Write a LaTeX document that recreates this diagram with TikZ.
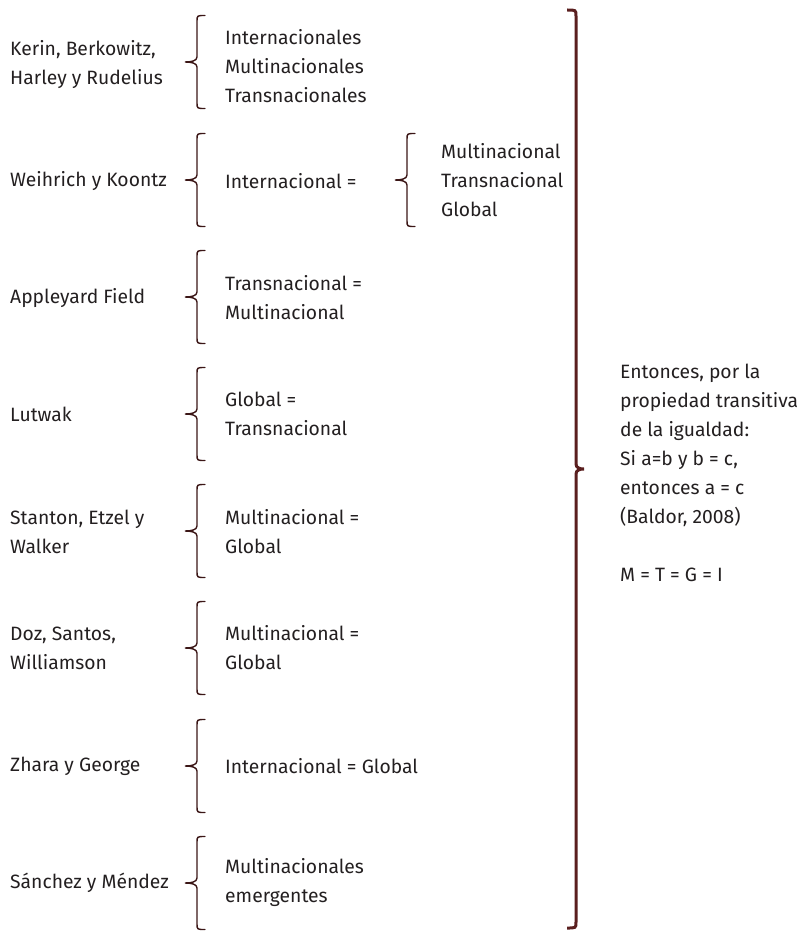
\documentclass[tikz,border=0pt]{standalone}
\usepackage{fontspec}
\setmainfont{Fira Sans}
\usepackage{xcolor}

\definecolor{inktext}{HTML}{231F20}
\definecolor{inkbrace}{HTML}{3B1616}
\definecolor{inkbig}{HTML}{5A1F1F}

% curly brace: #1 style, #2 end x, #3 stem x, #4 tip x, #5 top y, #6 bottom y
\newcommand{\curl}[6]{%
  \draw[#1] (#2,#5) .. controls (#3,#5) .. (#3,{#5+6})
    -- (#3,{(#5+#6)/2-5}) .. controls (#3,{(#5+#6)/2-1}) and ({(#3+#4)/2},{(#5+#6)/2}) .. (#4,{(#5+#6)/2})
    .. controls ({(#3+#4)/2},{(#5+#6)/2}) and (#3,{(#5+#6)/2+1}) .. (#3,{(#5+#6)/2+5})
    -- (#3,{#6-6}) .. controls (#3,#6) .. (#2,#6);}

\begin{document}
\begin{tikzpicture}[
    x=1pt, y=-1pt,
    author/.style = {anchor=west, align=left, inner sep=0pt, text=inktext,
                     font=\fontsize{19.3}{29}\selectfont},
    item/.style   = {author},
    note/.style   = {author},
    sbrace/.style = {draw=inkbrace, line width=1.4pt, line cap=round},
    bbrace/.style = {draw=inkbig, line width=3pt}
]
\useasboundingbox (0,0) rectangle (799,931);

% ========= authors =========
\node[author] (kerin)   at (10,65)  {Kerin, Berkowitz,\\Harley y Rudelius};
\node[author] (weih)    at (10,181) {Weihrich y Koontz};
\node[author] (apple)   at (10,298) {Appleyard Field};
\node[author] (lutwak)  at (10,414) {Lutwak};
\node[author] (stanton) at (10,532) {Stanton, Etzel y\\Walker};
\node[author] (doz)     at (10,648) {Doz, Santos,\\Williamson};
\node[author] (zhara)   at (10,766) {Zhara y George};
\node[author] (sanchez) at (10,883) {Sánchez y Méndez};

% ========= small braces =========
\curl{sbrace}{205}{197}{185}{15.5}{108.5}
\curl{sbrace}{205}{197}{185}{133.5}{226.5}
\curl{sbrace}{205}{197}{185}{250.5}{343.5}
\curl{sbrace}{205}{197}{185}{367.5}{460.5}
\curl{sbrace}{205}{197}{185}{484.5}{577.5}
\curl{sbrace}{205}{197}{185}{601.5}{694.5}
\curl{sbrace}{205}{197}{185}{719.5}{812.5}
\curl{sbrace}{205}{197}{185}{836.5}{929.5}
% nested brace of Weihrich y Koontz
\curl{sbrace}{415}{407}{395}{133.5}{226.5}

% ========= terms =========
\node[item] (t-kerin)   at (225,66)  {Internacionales\\Multinacionales\\Transnacionales};
\node[item] (t-weih)    at (225,181) {Internacional =};
\node[item] (t-weih2)   at (441,180) {Multinacional\\Transnacional\\Global};
\node[item] (t-apple)   at (225,298) {Transnacional =\\Multinacional};
\node[item] (t-lutwak)  at (225,414) {Global =\\Transnacional};
\node[item] (t-stanton) at (225,532) {Multinacional =\\Global};
\node[item] (t-doz)     at (225,648) {Multinacional =\\Global};
\node[item] (t-zhara)   at (225,766) {Internacional = Global};
\node[item] (t-sanchez) at (225,883) {Multinacionales\\emergentes};

% ========= big brace and conclusion =========
\curl{bbrace}{567}{576}{584}{10}{928}
\node[note] (concl) at (620,473)
    {Entonces, por la\\propiedad transitiva\\de la igualdad:\\Si a=b y b = c,\\entonces a = c\\(Baldor, 2008)\\[29pt]M = T = G = I};
\end{tikzpicture}
\end{document}
